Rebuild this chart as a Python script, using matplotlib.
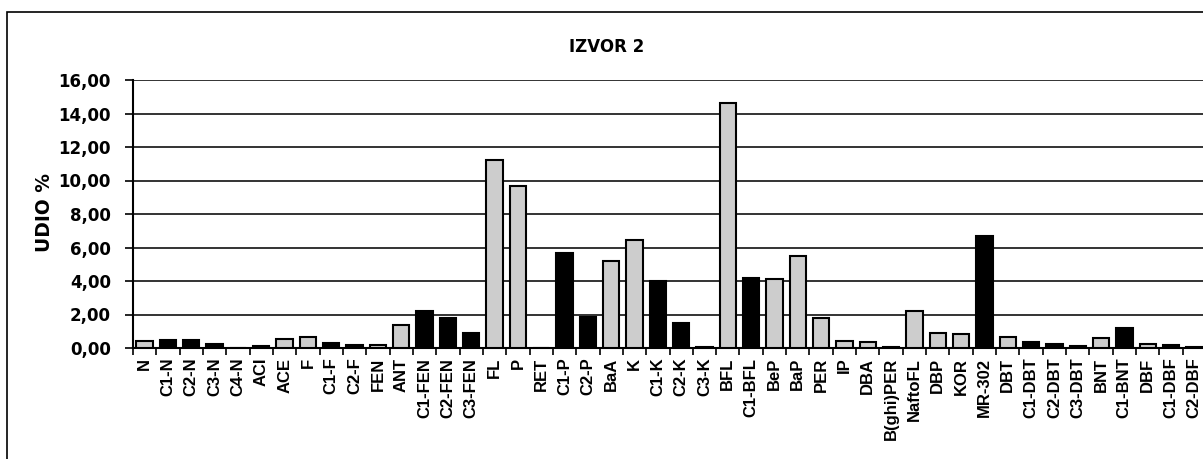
import matplotlib
matplotlib.use("Agg")
import matplotlib.pyplot as plt
from matplotlib.patches import Rectangle
from matplotlib.ticker import FixedLocator, FuncFormatter
import numpy as np

plt.rcParams['font.family'] = ['Liberation Sans', 'DejaVu Sans']

categories = ["N", "C1-N", "C2-N", "C3-N", "C4-N", "ACI", "ACE", "F", "C1-F", "C2-F",
              "FEN", "ANT", "C1-FEN", "C2-FEN", "C3-FEN", "FL", "P", "RET", "C1-P", "C2-P",
              "BaA", "K", "C1-K", "C2-K", "C3-K", "BFL", "C1-BFL", "BeP", "BaP", "PER",
              "IP", "DBA", "B(ghi)PER", "NaftoFL", "DBP", "KOR", "MR-302", "DBT", "C1-DBT", "C2-DBT",
              "C3-DBT", "BNT", "C1-BNT", "DBF", "C1-DBF", "C2-DBF"]
values = [0.44, 0.45, 0.45, 0.26, 0.02, 0.10, 0.55, 0.63, 0.30, 0.17,
          0.20, 1.40, 2.18, 1.78, 0.88, 11.22, 9.70, 0.0, 5.70, 1.84,
          5.20, 6.42, 4.00, 1.52, 0.08, 14.60, 4.18, 4.12, 5.52, 1.82,
          0.42, 0.36, 0.06, 2.20, 0.88, 0.84, 6.70, 0.64, 0.34, 0.24,
          0.10, 0.62, 1.20, 0.26, 0.20, 0.06]
yticks = [0, 2, 4, 6, 8, 10, 12, 14, 16]
title = "IZVOR 2"
ylabel = "UDIO %"

W, H = 1203, 459
fig = plt.figure(figsize=(W / 100, H / 100), dpi=100)
ax_left, ax_right, ax_top, ax_bot = 133, 1206, 80, 348
ax = fig.add_axes([ax_left / W, 1 - ax_bot / H, (ax_right - ax_left) / W, (ax_bot - ax_top) / H])

x = np.arange(len(categories))
colors = ['black' if (c[:2] in ('C1', 'C2', 'C3', 'C4') or c == 'MR-302') else '#cdcdcd'
          for c in categories]
ax.bar(x, values, width=0.7, color=colors, edgecolor='black', linewidth=1.5, zorder=3)

ax.set_xlim(-0.5, len(categories) - 0.5)
ax.set_ylim(0, 16)
ax.set_yticks(yticks)
ax.yaxis.set_major_formatter(FuncFormatter(lambda v, p: f"{v:.2f}".replace('.', ',')))
ax.grid(axis='y', color='#333333', linewidth=1.4, zorder=0)
ax.set_axisbelow(True)

ax.set_xticks(x)
ax.set_xticklabels(categories, rotation=90, fontsize=12, fontweight='bold')
ax.xaxis.set_minor_locator(FixedLocator(np.arange(len(categories) + 1) - 0.5))
ax.tick_params(axis='x', which='major', length=0, pad=7)
ax.tick_params(axis='x', which='minor', length=5, width=1.2, direction='out', color='black')
ax.tick_params(axis='y', which='major', length=6, width=1.2, labelsize=12, pad=10, color='black')
for lbl in ax.get_yticklabels():
    lbl.set_fontweight('bold')
    lbl.set_family(['DejaVu Sans'])

for s in ['top', 'right']:
    ax.spines[s].set_visible(False)
ax.spines['left'].set_linewidth(1.5)
ax.spines['bottom'].set_linewidth(1.5)

fig.text(607 / W, 1 - 47 / H, title, ha='center', va='center', fontsize=12,
         fontweight='bold', family=['DejaVu Sans'])
fig.text(44 / W, 1 - 213 / H, ylabel, ha='center', va='center', rotation=90,
         fontsize=13.5, fontweight='bold', family=['DejaVu Sans'])

frame = Rectangle((7 / W, -0.5), 2.0, 0.5 + (1 - 12 / H), transform=fig.transFigure,
                  fill=False, edgecolor='black', linewidth=1.2, clip_on=False)
fig.patches.append(frame)

fig.savefig("out.png", dpi=100)
